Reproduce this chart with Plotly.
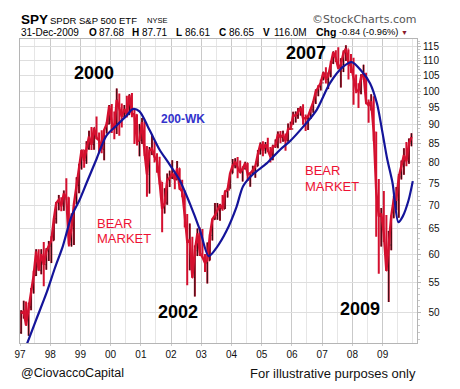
import plotly.graph_objects as go

# ---------------- data (dividend-adjusted SPY, monthly bars) ----------------
YEARS = list(range(1997, 2010))
MONTH_DATES = [f"{y}-{m:02d}-15" for y in YEARS for m in range(1, 13)]
YEAR_TICKS = [f"{y}-01-01" for y in YEARS]
YEAR_LABELS = [str(y)[2:] for y in YEARS]

HIGH = [
    50.4, 51.9, 51.8, 51.6, 54.0, 57.0, 61.0, 61.0, 61.0, 62.4, 61.2, 62.6,
    63.5, 67.2, 70.7, 72.3, 71.8, 73.3, 76.2, 71.8, 68.2, 70.4, 76.4, 79.7,
    83.2, 83.3, 85.5, 88.4, 89.4, 89.2, 92.4, 87.9, 88.5, 88.7, 90.8, 95.8,
    96.1, 93.9, 100.9, 99.3, 96.3, 95.8, 98.6, 99.1, 99.5, 94.5, 93.1, 90.3,
    92.0, 91.5, 84.3, 84.0, 87.5, 85.5, 82.4, 81.5, 75.3, 73.8, 77.3, 78.0,
    80.6, 77.5, 80.4, 78.6, 75.8, 73.3, 68.1, 66.1, 63.4, 61.7, 65.1, 65.3,
    65.0, 60.1, 62.3, 63.9, 67.1, 70.5, 70.5, 70.3, 72.3, 73.3, 73.9, 77.3,
    80.9, 81.1, 81.4, 80.5, 79.0, 80.2, 79.9, 77.6, 79.2, 79.2, 83.2, 85.2,
    85.5, 85.3, 86.5, 84.0, 84.6, 86.0, 88.2, 88.3, 88.4, 87.6, 90.4, 90.9,
    93.8, 93.9, 94.9, 95.4, 96.0, 93.0, 92.7, 94.6, 97.0, 100.6, 101.9, 103.7,
    106.3, 107.8, 106.1, 110.0, 113.3, 113.7, 114.8, 110.9, 113.6, 115.5, 114.0, 112.4,
    111.1, 105.4, 102.6, 105.5, 108.7, 106.0, 97.5, 99.1, 98.5, 88.1, 76.0, 69.4,
    73.2, 67.9, 64.6, 67.8, 72.1, 74.1, 77.2, 80.5, 83.7, 85.3, 86.3, 87.7,
]
LOW = [
    46.8, 49.1, 48.0, 46.5, 50.4, 53.1, 56.1, 57.0, 56.4, 54.3, 57.2, 58.8,
    58.4, 62.7, 66.1, 68.9, 68.7, 68.8, 71.2, 61.5, 61.5, 61.8, 70.3, 72.7,
    78.3, 78.7, 79.7, 83.3, 83.2, 83.3, 86.1, 82.4, 82.4, 80.6, 87.6, 90.2,
    87.8, 86.1, 87.5, 87.0, 89.3, 92.3, 92.1, 92.9, 92.2, 84.8, 84.4, 81.6,
    84.8, 81.7, 71.9, 72.6, 81.9, 80.0, 77.5, 74.7, 64.3, 68.2, 70.1, 74.1,
    76.0, 73.6, 75.8, 73.4, 71.8, 65.3, 54.5, 57.1, 55.8, 52.6, 59.7, 59.7,
    59.5, 56.8, 54.8, 58.9, 62.7, 66.9, 66.9, 66.7, 68.8, 69.2, 71.7, 73.7,
    77.4, 78.6, 76.2, 77.5, 75.4, 78.3, 75.5, 74.2, 77.1, 76.3, 79.1, 82.1,
    81.6, 82.3, 82.7, 80.0, 80.6, 83.8, 83.7, 85.0, 85.4, 83.0, 85.5, 88.7,
    90.1, 90.7, 91.8, 92.7, 90.1, 88.3, 88.6, 91.7, 93.5, 96.1, 98.5, 100.3,
    103.5, 102.5, 100.7, 104.5, 108.9, 109.6, 107.2, 101.2, 106.2, 110.0, 103.8, 105.9,
    95.9, 99.4, 94.9, 99.1, 103.7, 96.0, 90.6, 94.2, 85.5, 63.4, 56.5, 61.5,
    62.4, 57.0, 51.7, 60.8, 67.2, 68.9, 67.3, 75.9, 77.0, 79.1, 79.7, 84.2,
]
CLOSE = [
    49.9, 50.2, 48.1, 50.9, 53.8, 56.2, 60.6, 57.1, 60.1, 58.1, 60.6, 61.6,
    62.7, 67.1, 70.5, 71.2, 69.8, 72.6, 71.7, 61.9, 65.1, 70.3, 74.5, 78.7,
    83.2, 80.5, 83.6, 86.8, 84.6, 89.2, 86.4, 85.8, 83.4, 88.6, 90.3, 95.5,
    90.6, 88.8, 97.4, 94.4, 92.4, 94.6, 93.0, 98.7, 93.4, 92.9, 85.5, 85.8,
    90.8, 82.5, 77.1, 83.1, 83.5, 81.4, 80.5, 75.4, 69.2, 70.5, 75.7, 76.3,
    77.4, 75.8, 78.6, 73.8, 73.1, 67.8, 62.5, 62.7, 55.8, 60.7, 64.1, 60.3,
    59.5, 58.4, 58.9, 63.7, 67.0, 67.8, 68.8, 70.1, 69.2, 73.0, 73.5, 77.3,
    79.2, 80.2, 78.8, 77.5, 78.5, 79.9, 77.1, 77.3, 78.1, 79.1, 82.2, 84.8,
    83.1, 84.7, 83.2, 81.5, 84.1, 84.2, 87.5, 86.6, 87.2, 85.6, 88.9, 88.9,
    92.7, 92.7, 93.8, 94.9, 91.9, 91.9, 92.5, 94.4, 96.7, 99.8, 101.4, 102.7,
    106.1, 103.8, 104.9, 109.4, 113.0, 110.9, 107.4, 108.8, 112.7, 114.3, 109.3, 108.3,
    104.1, 100.5, 99.9, 104.6, 105.7, 96.6, 95.7, 96.9, 88.0, 73.2, 67.6, 68.2,
    64.0, 57.0, 61.8, 67.7, 71.2, 71.2, 76.5, 79.1, 81.9, 80.3, 84.9, 86.65,
]
FIRST_OPEN = 47.0
OPEN = [FIRST_OPEN] + CLOSE[:-1]

MA_DATES = [
    "1997-03-15", "1997-07-15", "1997-11-15", "1998-03-01", "1998-06-01", "1998-09-15",
    "1998-12-20", "1999-03-15", "1999-07-15", "1999-11-10", "2000-03-10", "2000-07-10",
    "2000-09-25", "2000-12-15", "2001-03-25", "2001-06-01", "2001-08-15", "2001-12-15",
    "2002-04-15", "2002-08-15", "2002-12-15", "2003-04-01", "2003-07-01", "2003-10-30",
    "2004-03-01", "2004-05-20", "2004-09-20", "2005-03-01", "2005-08-10", "2005-12-10",
    "2006-05-20", "2006-10-25", "2007-04-05", "2007-09-15", "2007-12-25", "2008-04-25",
    "2008-08-01", "2008-10-25", "2008-12-25", "2009-02-25", "2009-05-01", "2009-07-10",
    "2009-09-01", "2009-11-10", "2009-12-31",
]
MA_VALUES = [
    45.0, 48.9, 53.1, 57.6, 61.5, 67.6,
    71.1, 75.0, 80.9, 87.0, 89.8, 92.6,
    94.6, 93.9, 89.6, 86.5, 83.3, 79.5,
    75.7, 70.4, 64.8, 59.7, 61.2, 64.5,
    69.6, 74.3, 77.2, 79.8, 83.3, 85.6,
    89.6, 94.3, 102.6, 108.1, 109.6, 106.4,
    102.6, 96.2, 88.5, 80.9, 75.0, 66.4,
    67.6, 71.1, 75.5,
]

Y_TICKS = [50, 55, 60, 65, 70, 75, 80, 85, 90, 95, 100, 105, 110, 115]
Y_TICK_TEXT = [("\u2007" + str(v)) if v < 100 else str(v) for v in Y_TICKS]

# ---------------- styling ----------------
FONT = "Arial, Liberation Sans, sans-serif"
RED = "#d4102f"
BLACK = "#111111"
NAVY = "#14149a"

W, H = 460, 389
L, R, T, B = 20, 43, 39, 46
PW, PH = W - L - R, H - T - B


def px(x):
    return (x - L) / PW


def py(y):
    return (H - B - y) / PH


fig = go.Figure()

fig.add_trace(go.Scatter(
    x=MONTH_DATES, y=CLOSE, mode="lines",
    line=dict(color=RED, width=2.4), showlegend=False, hoverinfo="skip",
))
fig.add_trace(go.Ohlc(
    x=MONTH_DATES, open=OPEN, high=HIGH, low=LOW, close=CLOSE,
    increasing=dict(line=dict(color=RED, width=2.0)),
    decreasing=dict(line=dict(color=RED, width=2.0)),
    tickwidth=0.3, showlegend=False, hoverinfo="skip",
))
fig.add_trace(go.Ohlc(
    x=MONTH_DATES, open=OPEN, high=HIGH, low=LOW, close=CLOSE,
    increasing=dict(line=dict(color=BLACK, width=0.9)),
    decreasing=dict(line=dict(color="rgba(0,0,0,0)", width=0.1)),
    tickwidth=0.3, showlegend=False, hoverinfo="skip",
))
fig.add_trace(go.Scatter(
    x=MA_DATES, y=MA_VALUES, mode="lines",
    line=dict(color=NAVY, width=2.2, shape="spline", smoothing=0.8),
    showlegend=False, hoverinfo="skip",
))

ann = []


def add(x, y, text, size, color="#000", bold=False, xanchor="left", family=FONT):
    ann.append(dict(
        x=px(x), y=py(y), xref="paper", yref="paper", text=(f"<b>{text}</b>" if bold else text),
        showarrow=False, xanchor=xanchor, yanchor="middle",
        font=dict(size=size, color=color, family=family), borderpad=0,
    ))


# header line 1
add(20, 19.5, "SPY", 13.5, bold=True)
add(49, 20, "SPDR S&amp;P 500 ETF", 9.5)
add(146, 20.5, "NYSE", 7.5)
add(417, 19.5, "\u00a9StockCharts.com", 11, color="#555", xanchor="right", family="DejaVu Sans, sans-serif")
# header line 2
add(20, 32, "31-Dec-2009", 10)
add(87.5, 32, "O", 10, bold=True)
add(97.5, 32, "87.68", 10)
add(131, 32, "H", 10, bold=True)
add(141, 32, "87.71", 10)
add(174.5, 32, "L", 10, bold=True)
add(183.5, 32, "86.61", 10)
add(217.5, 32, "C", 10, bold=True)
add(228, 32, "86.65", 10)
add(261.5, 32, "V", 10, bold=True)
add(272.5, 32, "116.0M", 10)
add(314.5, 32, "Chg", 10.5, bold=True)
add(338, 32, "-0.84 (-0.96%)", 9.3)
add(400, 32.5, "\u25bc", 7, color="#8b1a2b")

# chart labels
add(94, 73, "2000", 18, bold=True, xanchor="center")
add(183, 119, "200-WK", 12, color="#3333cc", bold=True, xanchor="center")
add(96, 223, "BEAR", 13, color="#ee1133")
add(96, 238.5, "MARKET", 13, color="#ee1133")
add(178, 311.5, "2002", 18, bold=True, xanchor="center")
add(306, 53, "2007", 18, bold=True, xanchor="center")
add(304, 170, "BEAR", 13, color="#ee1133")
add(304, 186, "MARKET", 13, color="#ee1133")
add(360, 308.5, "2009", 18, bold=True, xanchor="center")

# footer
add(20, 373, "@CiovaccoCapital", 12.5, color="#111")
add(417, 373, "For illustrative purposes only", 13, color="#111", xanchor="right")

fig.update_layout(
    width=W, height=H,
    margin=dict(l=L, r=R, t=T, b=B, pad=0),
    paper_bgcolor="white", plot_bgcolor="white",
    font=dict(family=FONT, size=10, color="#111"),
    annotations=ann,
    hovermode=False,
    xaxis=dict(
        type="date", range=["1997-01-01", "2010-02-20"],
        rangeslider=dict(visible=False),
        tickmode="array", tickvals=YEAR_TICKS, ticktext=YEAR_LABELS,
        tickfont=dict(size=10, color="#111"),
        ticks="outside", ticklen=2, tickcolor="#cccccc",
        showgrid=True, gridcolor="#c9c9c9", gridwidth=1,
        minor=dict(dtick="M6", tick0="1997-01-01", showgrid=True, gridcolor="#e6e6e6", gridwidth=1),
        showline=True, linecolor="#b5b5b5", linewidth=1, mirror=True,
        zeroline=False, fixedrange=True,
    ),
    yaxis=dict(
        type="log", side="right",
        range=[1.65776, 2.07117],
        tickmode="array", tickvals=Y_TICKS, ticktext=Y_TICK_TEXT,
        tickfont=dict(size=10, color="#111"),
        ticks="outside", ticklen=3, tickcolor="#b5b5b5",
        showgrid=True, gridcolor="#dedede", gridwidth=1,
        minor=dict(tickmode="array", tickvals=list(range(46, 118)), ticks="outside",
                   ticklen=2, tickcolor="#c8c8c8", showgrid=False),
        showline=True, linecolor="#b5b5b5", linewidth=1, mirror=True,
        zeroline=False, fixedrange=True,
    ),
)

fig.write_html("out.html", config={"displayModeBar": False, "staticPlot": True},
               post_script="document.body.style.margin='0';")
